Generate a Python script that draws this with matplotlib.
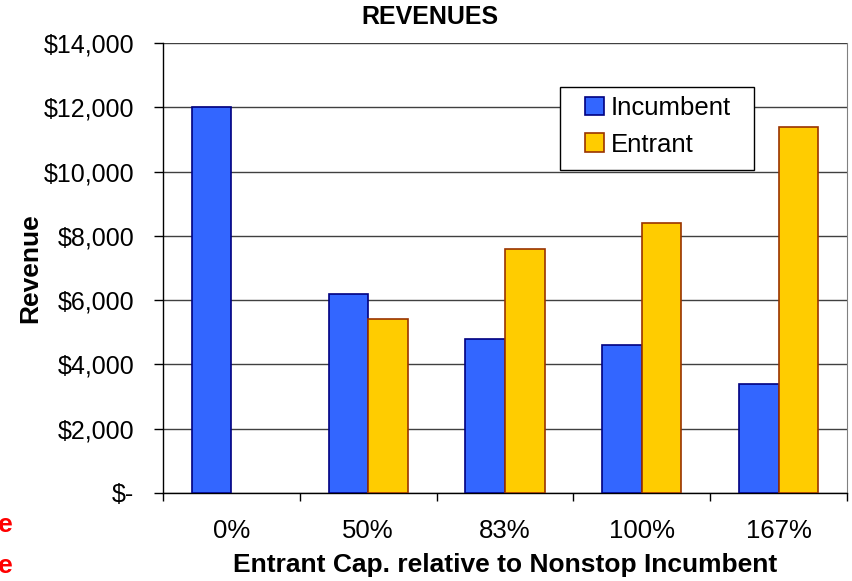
import numpy as np
import matplotlib
matplotlib.use('Agg')
import matplotlib.pyplot as plt
from matplotlib.ticker import FuncFormatter
from matplotlib.patches import Rectangle

plt.rcParams['font.family'] = ['Liberation Sans', 'DejaVu Sans']

# data
categories = ['0%', '50%', '83%', '100%', '167%']
incumbent = [12000, 6200, 4780, 4600, 3400]
entrant = [0, 5400, 7600, 8400, 11400]
yticks = [0, 2000, 4000, 6000, 8000, 10000, 12000, 14000]

fig = plt.figure(figsize=(8.52, 5.81), dpi=100)
ax = fig.add_axes([163/852, 1-493/581, 684/852, 450/581])

x = np.arange(len(categories))
w = 0.29
b1 = ax.bar(x - w/2, incumbent, w, color='#3366FF', edgecolor='#000080', linewidth=1.2,
            label='Incumbent', zorder=3)
b2 = ax.bar(x + w/2, entrant, w, color='#FFCC00', edgecolor='#993300', linewidth=1.2,
            label='Entrant', zorder=3)
# no edge line for empty bars
for p in list(b1) + list(b2):
    if p.get_height() == 0:
        p.set_edgecolor('none')

ax.set_xlim(-0.5, len(categories) - 0.5)
ax.set_ylim(0, 14000)
ax.set_yticks(yticks)
ax.yaxis.set_major_formatter(FuncFormatter(lambda v, p: '$-' if v == 0 else '${:,.0f}'.format(v)))
ax.grid(axis='y', color='#404040', linewidth=1.0, zorder=0)

ax.set_xticks(x)
ax.set_xticklabels(categories)
ax.set_xticks(np.arange(len(categories) + 1) - 0.5, minor=True)
ax.tick_params(axis='x', which='major', length=0, pad=19, labelsize=18.5)
ax.tick_params(axis='x', which='minor', length=6, width=1, direction='out')
ax.tick_params(axis='y', length=6.5, width=1, pad=14, labelsize=18)

for s in ['left', 'bottom']:
    ax.spines[s].set_color('black')
    ax.spines[s].set_linewidth(1)
ax.spines['top'].set_visible(False)
ax.spines['right'].set_color('#808080')

ax.set_ylabel('Revenue', fontsize=19, fontweight='bold', labelpad=1)
ax.set_xlabel('Entrant Cap. relative to Nonstop Incumbent', fontsize=19, fontweight='bold', labelpad=7)
fig.text(430/852, 1-17/581, 'REVENUES', ha='center', va='center', fontsize=18, fontweight='bold')

# legend box drawn by hand: the Excel one has wide side padding
fx = lambda px: (px - 163) / 684
fy = lambda py: (493 - py) / 450
ax.add_patch(Rectangle((fx(560), fy(170)), fx(754) - fx(560), fy(87) - fy(170),
                       transform=ax.transAxes, facecolor='white', edgecolor='black',
                       linewidth=1, zorder=5))
leg = ax.legend(handles=[b1[0], b2[1]], labels=['Incumbent', 'Entrant'],
                loc='upper left', bbox_to_anchor=(fx(585), fy(96)), fontsize=18.5,
                frameon=False, handlelength=0.75, handleheight=0.75, handletextpad=0.25,
                borderpad=0, labelspacing=0.5, borderaxespad=0)
leg.set_zorder(6)

# cut-off notes at the left edge
fig.text(13/852, 1-525/581, 'Revenue', ha='right', va='center', color='red', fontsize=19, fontweight='bold')
fig.text(13/852, 1-566/581, 'Revenue', ha='right', va='center', color='red', fontsize=19, fontweight='bold')

fig.savefig('out.png', dpi=100)
